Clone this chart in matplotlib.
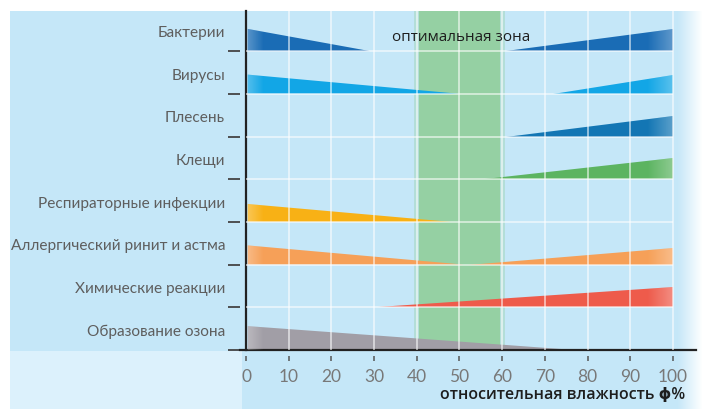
import numpy as np
import matplotlib
matplotlib.use("Agg")
import matplotlib.pyplot as plt
from matplotlib.patches import Rectangle

# categories listed top to bottom
categories = [
    "Бактерии",
    "Вирусы",
    "Плесень",
    "Клещи",
    "Респираторные инфекции",
    "Аллергический ринит и астма",
    "Химические реакции",
    "Образование озона",
]
colors = ["#1a6cb5", "#12a6e6", "#1376b4", "#5cb461",
          "#f8b115", "#f6a058", "#ee5b4b", "#a19ea6"]

# left wedge: full height at 0 % humidity, tapering to zero at left_end
left_end = [29, 50, None, None, 48, 51, None, 77]
left_height = [0.52, 0.45, 0, 0, 0.42, 0.45, 0, 0.56]
# right wedge: zero at right_start, full height at 100 %
right_start = [61, 72, 61, 56, None, 52, 31, None]
right_height = [0.52, 0.45, 0.47, 0.49, 0, 0.40, 0.47, 0]

optimal_zone = (40, 60)
x_ticks = list(range(0, 101, 10))

BG = "#c5e7f8"
n = len(categories)

fig = plt.figure(figsize=(7.04, 4.10), dpi=100)
fig.patch.set_facecolor("white")

# background panels (pixel coordinates)
bg = fig.add_axes([0, 0, 1, 1])
bg.set_xlim(0, 704)
bg.set_ylim(410, 0)
bg.axis("off")
bg.add_patch(Rectangle((10, 12), 232, 340, color=BG, lw=0))
bg.add_patch(Rectangle((10, 352), 232, 58, color="#dcf1fc", lw=0))
bg.add_patch(Rectangle((242, 12), 436, 398, color=BG, lw=0))
# soft fade to white on the right edge
steps = 24
for k in range(steps):
    bg.add_patch(Rectangle((678 + k, 12), 1.05, 398, color=BG,
                           alpha=1 - (k + 1) / (steps + 1), lw=0))

# main axes: x = 0 at 246 px, 4.27 px per %, rows 42.7 px apart
ax = fig.add_axes([246 / 704, 59 / 410, 450 / 704, 339 / 410])
ax.patch.set_alpha(0)
xmax = 450 / 4.27
ymax = 339 / 42.7

ax.axvspan(optimal_zone[0] - 0.6, optimal_zone[1] + 0.6, color="#92cf9e", alpha=0.35, lw=0, zorder=1)
ax.axvspan(optimal_zone[0] + 0.4, optimal_zone[1] - 0.4, color="#92cf9e", alpha=0.9, lw=0, zorder=1)


def add_fade(poly, x0, x1, rising):
    g = np.ones((1, 32, 4))
    a = np.linspace(0.3, 0, 32)
    g[0, :, 3] = a[::-1] if rising else a
    im = ax.imshow(g, extent=(x0, x1, 0, ymax), aspect="auto",
                   interpolation="bicubic", zorder=3)
    im.set_clip_path(poly)


for i, name in enumerate(categories):
    base = n - 1 - i
    if left_end[i] is not None:
        poly = ax.fill([0.4, left_end[i], 0.4],
                       [base, base, base + left_height[i]],
                       color=colors[i], lw=0, zorder=2)[0]
        add_fade(poly, 0, 4, False)
    if right_start[i] is not None:
        poly = ax.fill([right_start[i], 100, 100],
                       [base, base, base + right_height[i]],
                       color=colors[i], lw=0, zorder=2)[0]
        add_fade(poly, 94, 100, True)
    ax.text(-4.9, base + 0.45, name, ha="right", va="center", fontsize=11.1,
            color="#5e5e5e", family="Lato", clip_on=False)

ax.set_xlim(0, xmax)
ax.set_ylim(0, ymax)

# white grid over the wedges
for x in x_ticks[1:]:
    ax.axvline(x, color="white", lw=1.1, alpha=0.7, zorder=4)
for b in range(1, n):
    ax.hlines(b, 0, 100, color="white", lw=1.1, alpha=0.7, zorder=4)

# detached tick marks
ax.hlines(range(n), -4.2, -1.4, color="#444444", lw=1.3, clip_on=False)
ax.vlines(x_ticks, -0.25, -0.14, color="#555555", lw=1.1, clip_on=False)

for s in ["top", "right"]:
    ax.spines[s].set_visible(False)
ax.spines["left"].set_color("#222222")
ax.spines["left"].set_linewidth(1.6)
ax.spines["bottom"].set_color("#222222")
ax.spines["bottom"].set_linewidth(1.6)
ax.spines["bottom"].set_bounds(-1.4, xmax)

ax.set_yticks([])
ax.set_xticks(x_ticks)
ax.set_xticklabels([str(x) for x in x_ticks])
ax.tick_params(axis="x", length=0, pad=13, labelsize=12.5, labelcolor="#787878")
for lab in ax.get_xticklabels():
    lab.set_family("Lato")

ax.text(50.4, 7.35, "оптимальная зона", ha="center", va="center", fontsize=11,
        color="#1e1e1e", family="Open Sans", zorder=6)
ax.text(102.8, -1.03, "относительная влажность ϕ%", ha="right", va="center",
        fontsize=11.5, color="#1e1e1e", family=["Open Sans", "DejaVu Sans"],
        fontweight="semibold", clip_on=False)

fig.savefig("out.png", dpi=100, facecolor="white")
